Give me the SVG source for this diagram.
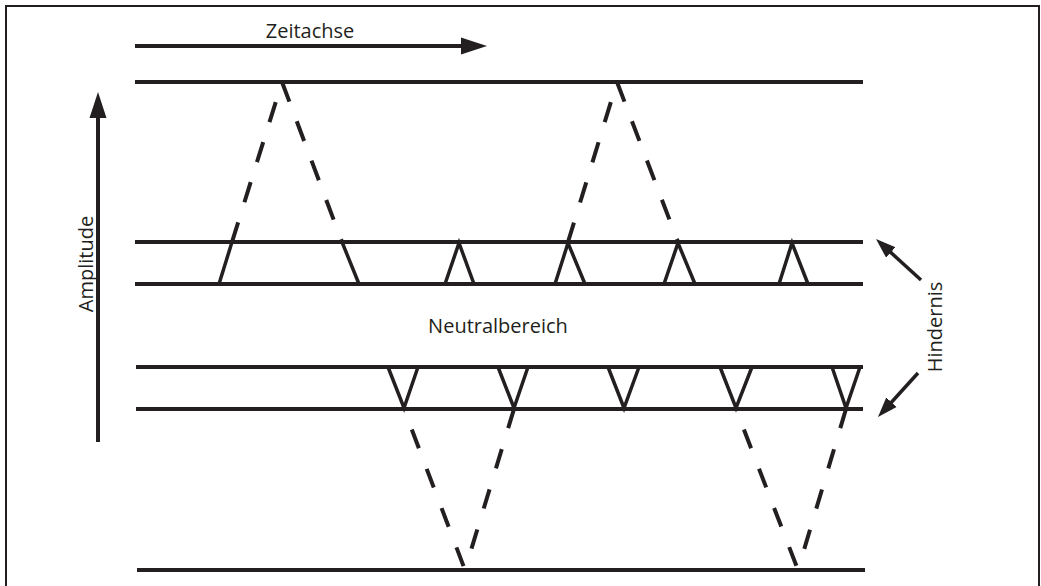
<svg xmlns="http://www.w3.org/2000/svg" width="1041" height="586" viewBox="0 0 1041 586">
  <style>
    .frame { fill: none; stroke: #231f20; stroke-width: 2; }
    .ln { fill: none; stroke: #231f20; stroke-width: 4; stroke-linecap: butt; }
    .solid { fill: none; stroke: #231f20; stroke-width: 3.5; stroke-linejoin: miter; stroke-linecap: butt; }
    .dashA { fill: none; stroke: #231f20; stroke-width: 4; stroke-dasharray: 21 21; }
    .dashB { fill: none; stroke: #231f20; stroke-width: 4; stroke-dasharray: 20 22; }
    .arr { fill: none; stroke: #231f20; stroke-width: 4; }
    .arrS { fill: none; stroke: #231f20; stroke-width: 3.5; }
    .lbl { font-family: "Open Sans", "Liberation Sans", sans-serif; font-size: 20px; fill: #231f20; text-anchor: middle; }
  </style>
  <defs>
    <marker id="head" markerUnits="userSpaceOnUse" markerWidth="28" markerHeight="18" viewBox="0 0 28 18" refX="2" refY="9" orient="auto">
      <path d="M0,0.5 L26,9 L0,17.5 Z" fill="#231f20"/>
    </marker>
    <marker id="headS" markerUnits="userSpaceOnUse" markerWidth="22" markerHeight="16" viewBox="0 0 22 16" refX="2" refY="8" orient="auto">
      <path d="M0,1 L20,8 L0,15 Z" fill="#231f20"/>
    </marker>
  </defs>
  <rect width="1041" height="586" fill="#ffffff"/>
  <path class="frame" d="M6,592 V6 H1039 V592"/>

  <g id="zeitachse">
    <line class="arr" x1="135" y1="46" x2="463" y2="46" marker-end="url(#head)"/>
    <text class="lbl" x="310" y="38">Zeitachse</text>
  </g>

  <g id="amplitude">
    <line class="arr" x1="98" y1="442" x2="98" y2="116" marker-end="url(#head)"/>
    <text class="lbl" transform="translate(93,264) rotate(-90)">Amplitude</text>
  </g>

  <g id="levels">
    <line class="ln" x1="135" y1="82" x2="863" y2="82"/>
    <line class="ln" x1="135" y1="242" x2="863" y2="242"/>
    <line class="ln" x1="135" y1="284" x2="863" y2="284"/>
    <line class="ln" x1="136" y1="367" x2="863" y2="367"/>
    <line class="ln" x1="136" y1="409" x2="863" y2="409"/>
    <line class="ln" x1="137" y1="570" x2="865" y2="570"/>
  </g>

  <g id="hindernis-oben">
    <line class="solid" x1="232" y1="242" x2="219" y2="284"/>
    <line class="solid" x1="342" y1="242" x2="359" y2="284"/>
    <polyline class="solid" points="445,284 459,243 474,284"/>
    <polyline class="solid" points="555,284 568,243 585,284"/>
    <polyline class="solid" points="664,284 678,243 695,284"/>
    <polyline class="solid" points="779,284 792,243 808,284"/>
  </g>

  <g id="hindernis-unten">
    <polyline class="solid" points="388,367 404,408 418,367"/>
    <polyline class="solid" points="498,367 514,408 528,367"/>
    <polyline class="solid" points="608,367 624,408 639,367"/>
    <polyline class="solid" points="720,367 736,408 752,367"/>
    <polyline class="solid" points="832,367 846,408 860,367"/>
  </g>

  <g id="connectors">
    <line class="dashA" x1="282" y1="82" x2="232" y2="242" stroke-dashoffset="21"/>
    <line class="dashA" x1="282" y1="82" x2="342" y2="242"/>
    <line class="dashA" x1="617" y1="82" x2="568" y2="242" stroke-dashoffset="21"/>
    <line class="dashA" x1="617" y1="82" x2="678" y2="242"/>
    <line class="dashB" x1="404" y1="409" x2="465" y2="570" stroke-dashoffset="20"/>
    <line class="dashB" x1="514" y1="409" x2="465" y2="570"/>
    <line class="dashB" x1="736" y1="409" x2="798" y2="570" stroke-dashoffset="20"/>
    <line class="dashB" x1="846" y1="409" x2="798" y2="570"/>
  </g>

  <g id="neutralbereich">
    <text class="lbl" x="498" y="333">Neutralbereich</text>
  </g>

  <g id="hindernis-label">
    <line class="arrS" x1="921" y1="280" x2="889.3" y2="251.1" marker-end="url(#headS)"/>
    <line class="arrS" x1="918" y1="373" x2="890.1" y2="403.7" marker-end="url(#headS)"/>
    <text class="lbl" transform="translate(942,327) rotate(-90)">Hindernis</text>
  </g>
</svg>
